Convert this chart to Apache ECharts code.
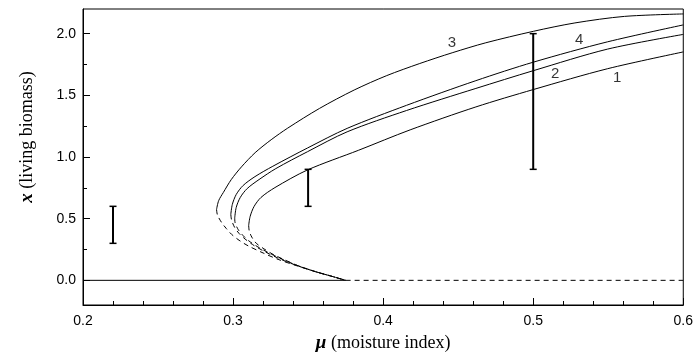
<!DOCTYPE html>
<html>
<head>
<meta charset="utf-8">
<script src="https://cdn.jsdelivr.net/npm/echarts@6/dist/echarts.min.js"></script>
<style>html,body{margin:0;padding:0;background:#fff}#c{width:696px;height:358px}</style>
</head>
<body>
<div id="c"></div>
<script>
// ---- data: [mu, x] pairs ----
var curve1Upper = [[0.3104,0.446],[0.3114,0.519],[0.3140,0.599],[0.3186,0.672],[0.3279,0.752],[0.3494,0.894],[0.3837,1.055],[0.4180,1.220],[0.4618,1.406],[0.5001,1.547],[0.5496,1.716],[0.6,1.852]];
var curve1Lower = [[0.3104,0.446],[0.3108,0.40],[0.3125,0.35],[0.3155,0.30],[0.3200,0.26],[0.3260,0.215],[0.3340,0.168],[0.3440,0.115],[0.3550,0.07],[0.3660,0.032],[0.3750,0]];
var curve2Upper = [[0.3011,0.506],[0.3021,0.591],[0.3048,0.672],[0.3094,0.744],[0.3173,0.817],[0.3285,0.906],[0.3496,1.043],[0.3760,1.204],[0.4156,1.377],[0.4618,1.556],[0.5001,1.700],[0.5496,1.875],[0.6,1.994]];
var curve2Lower = [[0.3011,0.506],[0.3014,0.465],[0.3035,0.41],[0.3065,0.365],[0.3105,0.32],[0.3160,0.275],[0.3230,0.228],[0.3320,0.175],[0.3430,0.12],[0.3550,0.07],[0.3660,0.032],[0.3750,0]];
var curve3Upper = [[0.2890,0.575],[0.2904,0.646],[0.2935,0.712],[0.2988,0.817],[0.3056,0.920],[0.3147,1.035],[0.3254,1.140],[0.3364,1.234],[0.3576,1.394],[0.3807,1.543],[0.4024,1.660],[0.4244,1.758],[0.4460,1.845],[0.4684,1.926],[0.5001,2.019],[0.5278,2.087],[0.5608,2.140],[0.6,2.160]];
var curve3Lower = [[0.2890,0.575],[0.2896,0.53],[0.2924,0.468],[0.2955,0.42],[0.2990,0.373],[0.3040,0.325],[0.3100,0.28],[0.3200,0.222],[0.3300,0.17],[0.3420,0.12],[0.3550,0.07],[0.3660,0.032],[0.3750,0]];
var curve4Upper = [[0.2985,0.535],[0.2995,0.615],[0.3021,0.696],[0.3067,0.769],[0.3146,0.841],[0.3265,0.925],[0.3496,1.073],[0.3760,1.232],[0.4156,1.419],[0.4618,1.619],[0.5001,1.769],[0.5496,1.934],[0.6,2.071]];
var curve4Lower = [[0.2985,0.535],[0.2990,0.49],[0.3010,0.43],[0.3040,0.38],[0.3080,0.335],[0.3130,0.29],[0.3200,0.24],[0.3300,0.18],[0.3420,0.122],[0.3550,0.07],[0.3660,0.032],[0.3750,0]];
var zeroStable = [[0.2,0],[0.375,0]];
var zeroUnstable = [[0.375,0],[0.6,0]];
var errMu = [0.22, 0.35, 0.5];
var errLow = [0.3, 0.6, 0.9];
var errHigh = [0.6, 0.9, 2.0];
var curveLabels = ['1','2','3','4'];
var labelMu = [0.556, 0.5147, 0.4458, 0.5307];
var labelX = [1.642, 1.677, 1.927, 1.952];
var yMajorTicks = [0, 0.5, 1.0, 1.5, 2.0];
var yMinorTicks = [0.25, 0.75, 1.25, 1.75];

var chart = echarts.init(document.getElementById('c'), null, {renderer:'canvas'});
var sans = 'Liberation Sans, Arial, sans-serif';
var serif = 'Liberation Serif, Times New Roman, serif';

function lineSeries(data, dashed) {
  return {type:'line', data:data, showSymbol:false, symbol:'none', smooth:0.3, silent:true,
    lineStyle:{color:'#000', width:1, type: dashed ? [5,4] : 'solid'}, z:3};
}
var series = [
  lineSeries(curve1Upper,false), lineSeries(curve1Lower,true),
  lineSeries(curve2Upper,false), lineSeries(curve2Lower,true),
  lineSeries(curve3Upper,false), lineSeries(curve3Lower,true),
  lineSeries(curve4Upper,false), lineSeries(curve4Lower,true),
  {type:'line', data:zeroStable, symbol:'none', lineStyle:{color:'#000', width:1}},
  {type:'line', data:zeroUnstable, symbol:'none', lineStyle:{color:'#000', width:1, type:[5,4]}},
  {type:'custom', data: errMu.map(function(m,i){return [m, errLow[i], errHigh[i]];}),
    renderItem: function(params, api){
      var a = api.coord([api.value(0), api.value(1)]);
      var b = api.coord([api.value(0), api.value(2)]);
      var w = 3.5;
      return {type:'group', children:[
        {type:'line', shape:{x1:a[0],y1:a[1],x2:b[0],y2:b[1]}, style:{stroke:'#000', lineWidth:2}},
        {type:'line', shape:{x1:a[0]-w,y1:a[1],x2:a[0]+w,y2:a[1]}, style:{stroke:'#000', lineWidth:1.5}},
        {type:'line', shape:{x1:b[0]-w,y1:b[1],x2:b[0]+w,y2:b[1]}, style:{stroke:'#000', lineWidth:1.5}}
      ]};
    }, z:4},
  {type:'scatter', symbolSize:1, itemStyle:{color:'transparent'},
    data: curveLabels.map(function(n,i){return {name:n, value:[labelMu[i], labelX[i]]};}),
    label:{show:true, position:'inside', formatter:function(p){return p.name;}, color:'#000', fontFamily:sans, fontSize:15}, z:5}
];

chart.setOption({
  animation:false,
  backgroundColor:'#fff',
  grid:{left:83, right:7, top:9, bottom:52, show:true, borderColor:'#000', borderWidth:1},
  xAxis:{type:'value', min:0.2, max:0.6, interval:0.1,
    axisLine:{show:true, onZero:false, lineStyle:{color:'#000', width:1}},
    axisTick:{show:true, inside:true, length:7, lineStyle:{color:'#000'}},
    minorTick:{show:true, splitNumber:5, length:4, lineStyle:{color:'#000'}},
    splitLine:{show:false},
    axisLabel:{color:'#000', fontFamily:sans, fontSize:14, margin:9, formatter:function(v){return v.toFixed(1);}},
    name:'{m|μ} (moisture index)', nameLocation:'middle', nameGap:29,
    nameTextStyle:{color:'#000', fontFamily:serif, fontSize:18,
      rich:{m:{fontFamily:serif, fontSize:19, fontStyle:'italic', fontWeight:'bold', color:'#000'}}}
  },
  yAxis:[{type:'value', min:-0.2, max:2.2,
    axisLine:{show:true, onZero:false, lineStyle:{color:'#000', width:1}},
    axisTick:{show:true, inside:true, length:7, customValues:yMajorTicks, lineStyle:{color:'#000'}},
    splitLine:{show:false},
    axisLabel:{color:'#000', fontFamily:sans, fontSize:14, margin:7, customValues:yMajorTicks, formatter:function(v){return v.toFixed(1);}}
  },{type:'value', min:-0.2, max:2.2, position:'left',
    axisLine:{show:false, onZero:false},
    axisTick:{show:true, inside:true, length:4, customValues:yMinorTicks, lineStyle:{color:'#000'}},
    splitLine:{show:false},
    axisLabel:{show:false}
  }],
  graphic:[{type:'text', x:27, y:137, rotation:Math.PI/2,
    style:{text:'{a|x} (living biomass)', fill:'#000', font:'18px ' + serif, align:'center', verticalAlign:'middle',
      rich:{a:{fontFamily:serif, fontSize:19, fontStyle:'italic', fontWeight:'bold', fill:'#000'}}}}],
  series: series
});
</script>
</body>
</html>
